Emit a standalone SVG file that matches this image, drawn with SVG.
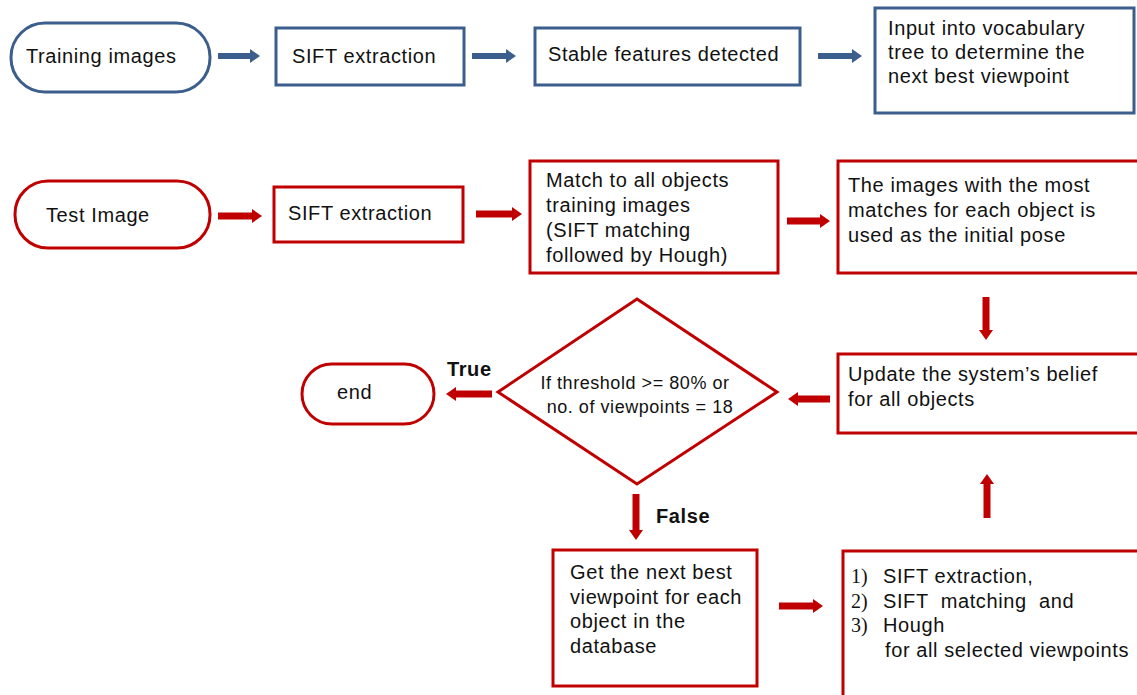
<svg xmlns="http://www.w3.org/2000/svg" width="1137" height="695" viewBox="0 0 1137 695">
<style>
text{font-family:"Liberation Sans",Arial,sans-serif;font-size:20px;letter-spacing:0.6px;fill:#111}
.b{fill:#fff;stroke:#3B5E8C;stroke-width:3}
.r{fill:#fff;stroke:#C00000;stroke-width:3}
.bl{stroke:#3B5E8C;stroke-width:6;fill:none}
.rl{stroke:#C00000;stroke-width:7;fill:none}
.bold{font-weight:bold}
.sm{font-size:18px;letter-spacing:0.55px}
.num{font-family:"Liberation Serif","Times New Roman",serif;letter-spacing:0}
</style>
<defs>
<marker id="ab" markerUnits="userSpaceOnUse" markerWidth="10" markerHeight="14" viewBox="0 0 10 14" refX="2" refY="7" orient="auto"><path d="M0,0 L10,7 L0,14 z" fill="#3B5E8C"/></marker>
<marker id="ar" markerUnits="userSpaceOnUse" markerWidth="10" markerHeight="14" viewBox="0 0 10 14" refX="2" refY="7" orient="auto"><path d="M0,0 L10,7 L0,14 z" fill="#C00000"/></marker>
</defs>
<g id="training"><rect class="b" x="11" y="23" width="199" height="69" rx="34"/><text x="26" y="63">Training images</text></g>
<g id="sift1"><rect class="b" x="276" y="28" width="188" height="57"/><text x="292" y="63">SIFT extraction</text></g>
<g id="stable"><rect class="b" x="535" y="28" width="265" height="57"/><text x="548" y="61">Stable features detected</text></g>
<g id="vocab"><rect class="b" x="875" y="8" width="259" height="105"/><text x="888" y="35">Input into vocabulary</text><text x="888" y="59">tree to determine the</text><text x="888" y="83">next best viewpoint</text></g>
<g id="test"><rect class="r" x="15" y="181" width="195" height="67" rx="33"/><text x="46" y="222">Test Image</text></g>
<g id="sift2"><rect class="r" x="274" y="187" width="189" height="55"/><text x="288" y="220">SIFT extraction</text></g>
<g id="match"><rect class="r" x="530" y="161" width="248" height="112"/><text x="546" y="187">Match to all objects</text><text x="546" y="212">training images</text><text x="546" y="237">(SIFT matching</text><text x="546" y="262">followed by Hough)</text></g>
<g id="pose"><rect class="r" x="838" y="161" width="302" height="112"/><text x="848" y="192">The images with the most</text><text x="848" y="217">matches for each object is</text><text x="848" y="242">used as the initial pose</text></g>
<g id="update"><rect class="r" x="838" y="354" width="302" height="79"/><text x="848" y="381">Update the system’s belief</text><text x="848" y="406">for all objects</text></g>
<g id="decision"><polygon class="r" points="637,299 777,392 637,484 498,392"/><text class="sm" x="635" y="389" text-anchor="middle">If threshold &gt;= 80% or</text><text class="sm" x="640" y="413" text-anchor="middle">no. of viewpoints = 18</text></g>
<g id="end"><rect class="r" x="302" y="364" width="132" height="60" rx="30"/><text x="337" y="399">end</text></g>
<g id="next"><rect class="r" x="553" y="550" width="204" height="136"/><text x="570" y="579">Get the next best</text><text x="570" y="604">viewpoint for each</text><text x="570" y="628">object in the</text><text x="570" y="653">database</text></g>
<g id="steps"><rect class="r" x="843" y="551" width="297" height="150"/>
<text class="num" x="851" y="583">1)</text><text x="883" y="583">SIFT extraction,</text>
<text class="num" x="851" y="608">2)</text><text x="883" y="608" xml:space="preserve">SIFT  matching  and</text>
<text class="num" x="851" y="632">3)</text><text x="883" y="632">Hough</text>
<text x="885" y="657">for all selected viewpoints</text></g>
<g id="connectors">
<line class="bl" x1="218" y1="56" x2="252" y2="56" marker-end="url(#ab)"/>
<line class="bl" x1="472" y1="56" x2="508" y2="56" marker-end="url(#ab)"/>
<line class="bl" x1="818" y1="56" x2="854" y2="56" marker-end="url(#ab)"/>
<line class="rl" x1="218" y1="216" x2="254" y2="216" marker-end="url(#ar)"/>
<line class="rl" x1="476" y1="214" x2="514" y2="214" marker-end="url(#ar)"/>
<line class="rl" x1="787" y1="221" x2="822" y2="221" marker-end="url(#ar)"/>
<line class="rl" x1="986" y1="297" x2="986" y2="332" marker-end="url(#ar)"/>
<line class="rl" x1="830" y1="399" x2="796" y2="399" marker-end="url(#ar)"/>
<line class="rl" x1="492" y1="394" x2="454" y2="394" marker-end="url(#ar)"/>
<line class="rl" x1="636" y1="494" x2="636" y2="532" marker-end="url(#ar)"/>
<line class="rl" x1="779" y1="606" x2="815" y2="606" marker-end="url(#ar)"/>
<line class="rl" x1="987" y1="518" x2="987" y2="482" marker-end="url(#ar)"/>
<text class="bold" x="447" y="376">True</text>
<text class="bold" x="656" y="523">False</text>
</g>
</svg>
